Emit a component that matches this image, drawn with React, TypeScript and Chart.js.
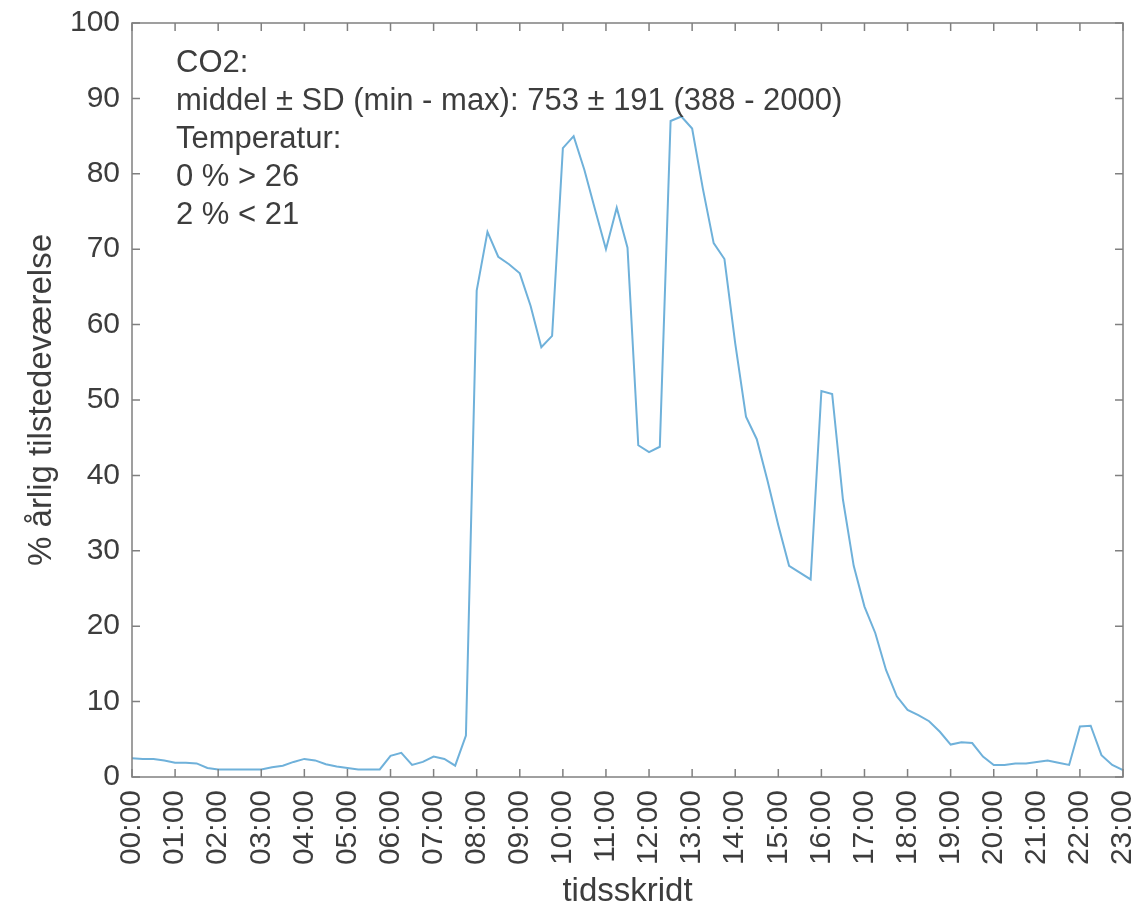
import React, { useEffect, useRef } from "react";
import { Chart, registerables } from "chart.js";

Chart.register(...registerables);

// Hour tick labels on the x axis
const hourLabels = [
  "00:00", "01:00", "02:00", "03:00", "04:00", "05:00", "06:00", "07:00",
  "08:00", "09:00", "10:00", "11:00", "12:00", "13:00", "14:00", "15:00",
  "16:00", "17:00", "18:00", "19:00", "20:00", "21:00", "22:00", "23:00",
];

// Sampling step of the series, in hours (15 minutes)
const stepHours = 0.25;

// % annual presence, one value every 15 minutes from 00:00 to 23:00
const occupancy = [
  2.5, 2.4, 2.4, 2.2, // 00
  1.9, 1.9, 1.8, 1.2, // 01
  1.0, 1.0, 1.0, 1.0, // 02
  1.0, 1.3, 1.5, 2.0, // 03
  2.4, 2.2, 1.7, 1.4, // 04
  1.2, 1.0, 1.0, 1.0, // 05
  2.8, 3.2, 1.6, 2.0, // 06
  2.7, 2.4, 1.5, 5.5, // 07
  64.5, 72.3, 69.0, 68.0, // 08
  66.8, 62.5, 57.0, 58.5, // 09
  83.4, 85.0, 80.5, 75.2, // 10
  70.0, 75.5, 70.2, 44.0, // 11
  43.1, 43.8, 87.0, 87.6, // 12
  86.0, 78.0, 70.8, 68.7, // 13
  57.5, 47.8, 44.8, 39.3, // 14
  33.4, 28.0, 27.1, 26.2, // 15
  51.2, 50.8, 36.8, 28.0, // 16
  22.6, 19.1, 14.2, 10.7, // 17
  8.9, 8.2, 7.4, 6.0, // 18
  4.3, 4.6, 4.5, 2.7, // 19
  1.6, 1.6, 1.8, 1.8, // 20
  2.0, 2.2, 1.9, 1.6, // 21
  6.7, 6.8, 2.9, 1.6, // 22
  0.9, // 23
];

const yMin = 0;
const yMax = 100;
const yStep = 10;

const infoLines = [
  "CO2:",
  "middel ± SD (min - max): 753 ± 191 (388 - 2000)",
  "Temperatur:",
  "0 % > 26",
  "2 % < 21",
];

const yTitle = "% årlig tilstedeværelse";
const xTitle = "tidsskridt";

const FONT = '"Liberation Sans", Arial, Helvetica, sans-serif';
const TEXT_COLOR = "#3d3d3d";
const AXIS_COLOR = "#808080";
const LINE_COLOR = "#6fb1da";

export default function App() {
  const canvasRef = useRef<HTMLCanvasElement | null>(null);

  useEffect(() => {
    const canvas = canvasRef.current;
    if (!canvas) return;

    const boxPlugin = {
      id: "matlabBox",
      afterDatasetsDraw(chart: any) {
        const { ctx, chartArea, scales } = chart;
        const { left, right, top, bottom } = chartArea;
        const x = scales.x;
        const y = scales.y;
        ctx.save();
        ctx.strokeStyle = AXIS_COLOR;
        ctx.lineWidth = 1.5;
        ctx.strokeRect(left, top, right - left, bottom - top);
        ctx.beginPath();
        const tl = 8;
        x.ticks.forEach((t: any) => {
          const px = x.getPixelForValue(t.value);
          ctx.moveTo(px, bottom);
          ctx.lineTo(px, bottom - tl);
          ctx.moveTo(px, top);
          ctx.lineTo(px, top + tl);
        });
        y.ticks.forEach((t: any) => {
          const py = y.getPixelForValue(t.value);
          ctx.moveTo(left, py);
          ctx.lineTo(left + tl, py);
          ctx.moveTo(right, py);
          ctx.lineTo(right - tl, py);
        });
        ctx.stroke();

        ctx.fillStyle = TEXT_COLOR;
        ctx.font = `31px ${FONT}`;
        ctx.textBaseline = "middle";
        ctx.textAlign = "left";
        infoLines.forEach((s, i) => {
          ctx.fillText(s, left + 44, top + 40 + i * 38);
        });
        ctx.restore();
      },
    };

    const chart = new Chart(canvas, {
      type: "line",
      data: {
        datasets: [
          {
            data: occupancy.map((v, i) => ({ x: i * stepHours, y: v })),
            borderColor: LINE_COLOR,
            borderWidth: 2,
            pointRadius: 0,
            tension: 0,
            fill: false,
          },
        ],
      },
      options: {
        responsive: false,
        animation: false,
        layout: { padding: { top: 23, right: 22, left: 0, bottom: 0 } },
        plugins: {
          legend: { display: false },
          tooltip: { enabled: false },
        },
        scales: {
          x: {
            type: "linear",
            min: 0,
            max: hourLabels.length - 1,
            grid: { display: false, drawTicks: false },
            border: { display: false },
            ticks: {
              stepSize: 1,
              autoSkip: false,
              minRotation: 90,
              maxRotation: 90,
              padding: 13,
              color: TEXT_COLOR,
              font: { size: 30, family: FONT },
              callback: (v: any) => hourLabels[Math.round(Number(v))] ?? "",
            },
            title: {
              display: true,
              text: xTitle,
              color: TEXT_COLOR,
              font: { size: 33, family: FONT },
              padding: { top: 0, bottom: 2 },
            },
            afterFit: (s: any) => {
              s.height = 137;
              s.paddingLeft = 0;
              s.paddingRight = 0;
            },
          },
          y: {
            min: yMin,
            max: yMax,
            grid: { display: false, drawTicks: false },
            border: { display: false },
            ticks: {
              stepSize: yStep,
              padding: 12,
              color: TEXT_COLOR,
              font: { size: 30, family: FONT },
            },
            title: {
              display: true,
              text: yTitle,
              color: TEXT_COLOR,
              font: { size: 33, family: FONT },
              padding: { top: 22, bottom: 0 },
            },
            afterFit: (s: any) => {
              s.width = 132;
              s.paddingTop = 0;
              s.paddingBottom = 0;
            },
          },
        },
      },
      plugins: [boxPlugin],
    });

    return () => chart.destroy();
  }, []);

  return (
    <div style={{ position: "absolute", left: 0, top: 0, width: 1145, height: 914, background: "#fff" }}>
      <canvas ref={canvasRef} width={1145} height={914} />
    </div>
  );
}
